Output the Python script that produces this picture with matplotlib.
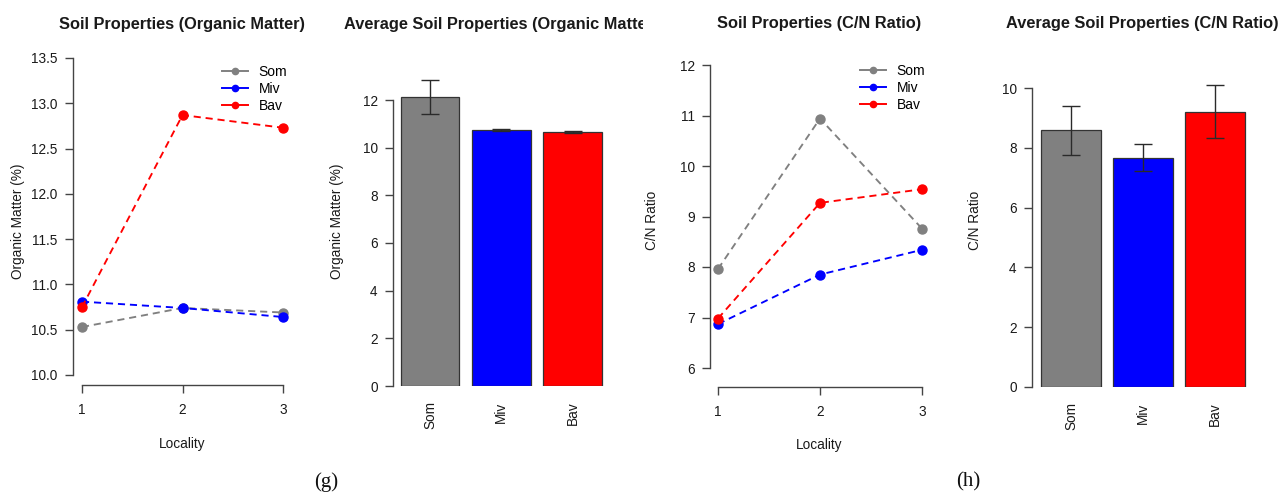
import numpy as np
import matplotlib
matplotlib.use("Agg")
import matplotlib.pyplot as plt
from matplotlib.transforms import Bbox, TransformedBbox

# locality means per site
locality = [1, 2, 3]
sites = ["Som", "Miv", "Bav"]
site_colors = ["#808080", "#0000FF", "#FF0000"]

om_som = [10.53, 10.74, 10.69]
om_miv = [10.81, 10.74, 10.64]
om_bav = [10.75, 12.87, 12.73]

cn_som = [7.96, 10.94, 8.76]
cn_miv = [6.87, 7.85, 8.34]
cn_bav = [6.98, 9.27, 9.54]

# averages over localities with error bars
om_mean = [12.12, 10.75, 10.65]
om_err = [0.70, 0.04, 0.04]
cn_mean = [8.59, 7.68, 9.22]
cn_err = [0.81, 0.44, 0.90]

W, H = 1281, 493
plt.rcParams["font.family"] = ["Liberation Sans", "DejaVu Sans"]
fig = plt.figure(figsize=(W / 100, H / 100), dpi=100)

AX_COL = "#444444"
TXT = "#1a1a1a"


def px_axes(left, right, top, bottom):
    return fig.add_axes([left / W, 1 - bottom / H, (right - left) / W, (bottom - top) / H])


def lims(lo, hi, v1, p1, v2, p2):
    s = (v2 - v1) / (p2 - p1)
    return v1 + (lo - p1) * s, v1 + (hi - p1) * s


def ftext(x, y, s, **kw):
    return fig.text(x / W, 1 - y / H, s, **kw)


def style_axes(ax):
    for side in ("top", "right"):
        ax.spines[side].set_visible(False)
    for side in ("left", "bottom"):
        ax.spines[side].set_color(AX_COL)
        ax.spines[side].set_linewidth(1.0)
    ax.tick_params(colors=AX_COL, labelcolor=TXT, labelsize=9.8, width=1.0, length=5.5)
    ax.tick_params(axis="y", pad=5.5)


def line_panel(box, xanch, yanch, series, yticks, ylab_fmt, leg_pos):
    ax = px_axes(*box)
    left, right, top, bottom = box
    ax.set_xlim(*lims(left, right, *xanch))
    ax.set_ylim(*lims(bottom, top, *yanch))
    for vals, name, col in zip(series, sites, site_colors):
        ax.plot(locality, vals, ls=(0, (3.8, 2.6)), lw=1.35, color=col, marker="o",
                markersize=6.5, label=name)
    style_axes(ax)
    ax.spines["left"].set_bounds(yticks[0], yticks[-1])
    ax.spines["bottom"].set_bounds(locality[0], locality[-1])
    ax.set_xticks(locality)
    ax.set_yticks(yticks)
    ax.set_yticklabels([ylab_fmt.format(v) for v in yticks])
    ax.tick_params(axis="x", pad=7.5)
    # legend handles: solid lines with small dots
    handles = [plt.Line2D([], [], color=c, lw=1.4, marker="o", markersize=4.5) for c in site_colors]
    fx, fy = leg_pos
    ax.legend(handles, sites, loc="upper left", bbox_to_anchor=(fx / W, 1 - fy / H),
              bbox_transform=fig.transFigure, frameon=False, fontsize=10,
              handlelength=1.85, handletextpad=0.8, labelspacing=0.2, borderpad=0,
              borderaxespad=0)
    return ax


def bar_panel(box, xanch, yanch, means, errs, yticks):
    ax = px_axes(*box)
    left, right, top, bottom = box
    ax.set_xlim(*lims(left, right, *xanch))
    ax.set_ylim(*lims(bottom, top, *yanch))
    x = np.arange(len(sites))
    ax.bar(x, means, width=0.825, color=site_colors, edgecolor="#333333", linewidth=0.9)
    ax.errorbar(x, means, yerr=errs, fmt="none", ecolor="#2a2a2a", elinewidth=1.0,
                capsize=6.3, capthick=1.0)
    style_axes(ax)
    ax.spines["bottom"].set_visible(False)
    ax.spines["left"].set_bounds(yticks[0], yticks[-1])
    ax.set_yticks(yticks)
    ax.set_xticks(x)
    ax.set_xticklabels(sites, rotation=90, va="top")
    ax.tick_params(axis="x", length=0, pad=11)
    return ax


# organic matter by locality
line_panel((73, 292, 45, 385), (1, 82, 3, 283), (10.0, 375, 13.5, 58),
           [om_som, om_miv, om_bav], [10.0, 10.5, 11.0, 11.5, 12.0, 12.5, 13.0, 13.5],
           "{:.1f}", (222, 65))
ftext(182, 25, "Soil Properties (Organic Matter)", ha="center", va="center",
      fontsize=11.8, fontweight="bold", color=TXT)
ftext(18.5, 221, "Organic Matter (%)", ha="center", va="center", rotation=90,
      fontsize=9.8, color=TXT)
ftext(182, 444, "Locality", ha="center", va="center", fontsize=9.8, color=TXT)

# average organic matter
bar_panel((393, 612, 45, 386), (0, 430, 2, 572.5), (0, 386, 12, 100),
          om_mean, om_err, [0, 2, 4, 6, 8, 10, 12])
t = ftext(501, 25, "Average Soil Properties (Organic Matter)", ha="center", va="center",
          fontsize=11.8, fontweight="bold", color=TXT)
t.set_clip_box(TransformedBbox(Bbox([[320 / W, 0], [643 / W, 1]]), fig.transFigure))
t.set_clip_on(True)
ftext(337, 221, "Organic Matter (%)", ha="center", va="center", rotation=90,
      fontsize=9.8, color=TXT)

# C/N ratio by locality
line_panel((710, 930, 45, 387), (1, 718, 3, 922), (6, 368, 12, 65),
           [cn_som, cn_miv, cn_bav], [6, 7, 8, 9, 10, 11, 12], "{:.0f}", (860, 64))
ftext(819, 23.5, "Soil Properties (C/N Ratio)", ha="center", va="center",
      fontsize=11.8, fontweight="bold", color=TXT)
ftext(652.5, 220, "C/N Ratio", ha="center", va="center", rotation=90,
      fontsize=9.8, color=TXT)
ftext(819, 445, "Locality", ha="center", va="center", fontsize=9.8, color=TXT)

# average C/N ratio
bar_panel((1032, 1253, 45, 387), (0, 1071, 2, 1215), (0, 386.7, 10, 88.3),
          cn_mean, cn_err, [0, 2, 4, 6, 8, 10])
ftext(1142, 23.5, "Average Soil Properties (C/N Ratio)", ha="center", va="center",
      fontsize=11.8, fontweight="bold", color=TXT)
ftext(975, 220, "C/N Ratio", ha="center", va="center", rotation=90,
      fontsize=9.8, color=TXT)

# panel letters
ftext(326, 482, "(g)", ha="center", va="center", fontsize=15,
      family=["Liberation Serif", "DejaVu Serif"], color="#111111")
ftext(968, 482, "(h)", ha="center", va="center", fontsize=15,
      family=["Liberation Serif", "DejaVu Serif"], color="#111111")

fig.savefig("out.png", dpi=100)
